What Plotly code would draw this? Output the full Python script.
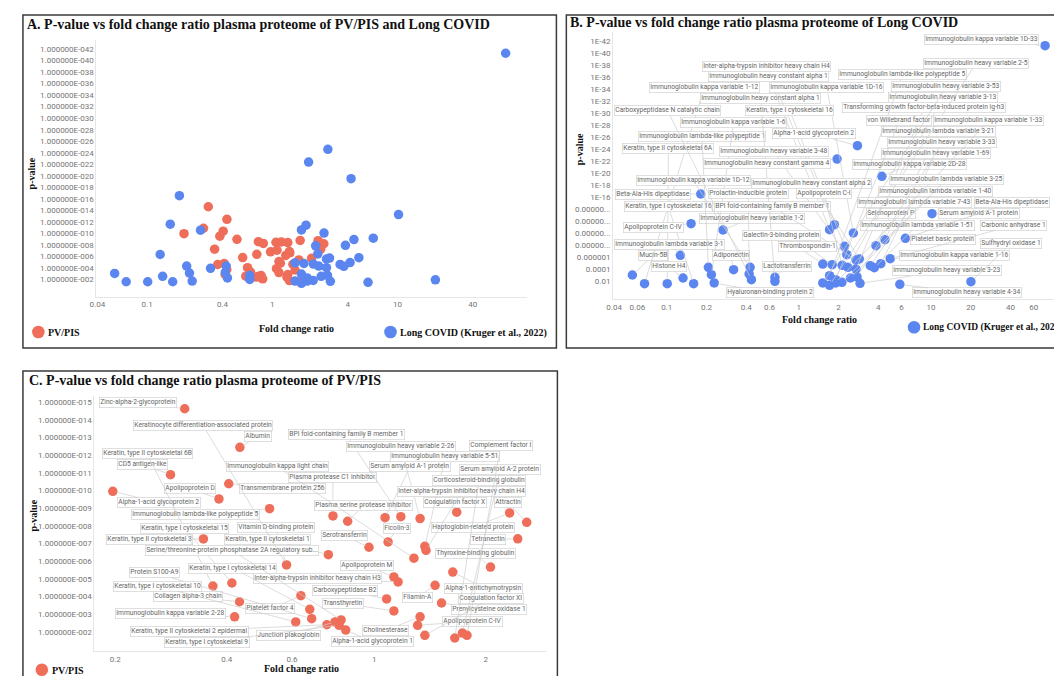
import numpy as np
import plotly.graph_objects as go

W, H = 1062, 676
RED = "#EE6E59"
BLUE = "#5B86F0"

# ---------------- data: Long COVID (Kruger et al., 2022) ----------------
lc_protein = [
    "Mucin-5B", "Immunoglobulin kappa variable 1-12", "Keratin, type II cytoskeletal 6A", "Histone H4",
    "Keratin, type I cytoskeletal 16", "Immunoglobulin lambda variable 3-1", "Apolipoprotein C-IV",
    "Beta-Ala-His dipeptidase", "Immunoglobulin heavy variable 1-2", "Immunoglobulin lambda-like polypeptide 1",
    "Immunoglobulin kappa variable 1-6", "Hyaluronan-binding protein 2", "Adiponectin",
    "Immunoglobulin kappa variable 1D-12", "Prolactin-inducible protein", "Carboxypeptidase N catalytic chain",
    "Lactotransferrin", "Immunoglobulin heavy constant alpha 1", "Immunoglobulin kappa variable 2D-28",
    "Serum amyloid A-1 protein", "Inter-alpha-trypsin inhibitor heavy chain H4",
    "Immunoglobulin heavy constant alpha 1", "Immunoglobulin kappa variable 1D-16", "Platelet basic protein",
    "Immunoglobulin lambda variable 3-21", "Selenoprotein P", "Keratin, type I cytoskeletal 16",
    "Immunoglobulin heavy variable 3-48", "BPI fold-containing family B member 1",
    "Immunoglobulin heavy constant alpha 2", "Immunoglobulin kappa variable 1-16", "Galectin-3-binding protein",
    "Thrombospondin-1", "Apolipoprotein C-I", "Immunoglobulin heavy variable 3-13",
    "Transforming growth factor-beta-induced protein ig-h3", "Immunoglobulin lambda variable 7-43",
    "Immunoglobulin lambda variable 1-51", "Immunoglobulin heavy variable 1-69",
    "Immunoglobulin lambda-like polypeptide 5", "von Willebrand factor", "Immunoglobulin lambda variable 1-40",
    "Immunoglobulin heavy variable 3-33", "Immunoglobulin heavy variable 3-53", "Immunoglobulin heavy variable 2-5",
    "Immunoglobulin kappa variable 1-33", "Immunoglobulin lambda variable 3-25", "Immunoglobulin heavy variable 3-23",
    "Immunoglobulin heavy variable 4-34", "Sulfhydryl oxidase 1", "Immunoglobulin kappa variable 1D-33",
    "Alpha-1-acid glycoprotein 2", "Immunoglobulin heavy constant gamma 4",
]
lc_fold = [0.055, 0.068, 0.101, 0.133, 0.160, 0.127, 0.153, 0.181, 0.267, 0.207,
           0.218, 0.229, 0.321, 0.428, 0.421, 0.438, 0.660, 0.660, 4.26, 10.2,
           1.86, 1.71, 2.59, 6.41, 4.49, 3.84, 2.22, 2.31, 2.71, 2.87,
           4.92, 1.52, 1.79, 2.13, 2.35, 2.71, 3.48, 3.73, 4.18, 1.71,
           1.90, 2.46, 2.76, 1.52, 1.71, 1.90, 2.12, 2.91, 5.82, 20.1,
           73.2, 2.78, 1.95]
lc_neglog10p = [3.05, 1.6, 1.6, 2.55, 1.6, 6.33, 11.6, 16.55, 10.55, 4.33,
                3.1, 1.72, 3.93, 4.33, 3.22, 2.27, 2.67, 2.0, 19.5, 13.27,
                11.43, 10.6, 10.05, 9.17, 8.93, 7.93, 7.83, 6.43, 5.55, 5.72,
                5.77, 4.88, 4.77, 4.67, 4.33, 4.05, 4.6, 4.27, 4.93, 2.93,
                2.27, 2.55, 2.72, 1.72, 1.33, 1.72, 1.83, 1.67, 1.5, 1.93,
                41.27, 24.6, 22.38]

# ---------------- data: PV/PIS ----------------
pv_protein = [
    "Zinc-alpha-2-glycoprotein", "Albumin", "CD5 antigen-like", "Alpha-1-acid glycoprotein 2",
    "Transmembrane protein 256", "Apolipoprotein D", "Immunoglobulin lambda-like polypeptide 5",
    "Keratin, type II cytoskeletal 3", "Vitamin D-binding protein", "Keratin, type II cytoskeletal 6B",
    "Keratin, type I cytoskeletal 15", "Collagen alpha-3 chain", "Immunoglobulin kappa variable 2-28",
    "Plasma protease C1 inhibitor", "Plasma serine protease inhibitor", "Serum amyloid A-1 protein",
    "BPI fold-containing family B member 1", "Immunoglobulin heavy variable 2-26", "Coagulation factor X",
    "Haptoglobin-related protein", "Attractin", "Tetranectin", "Serotransferrin", "Ficolin-3",
    "Keratin, type II cytoskeletal 1", "Immunoglobulin heavy variable 5-51",
    "Inter-alpha-trypsin inhibitor heavy chain H4", "Immunoglobulin kappa light chain",
    "Thyroxine-binding globulin", "Alpha-1-antichymotrypsin", "Apolipoprotein M",
    "Inter-alpha-trypsin inhibitor heavy chain H3", "Filamin-A", "Platelet factor 4", "Carboxypeptidase B2",
    "Prenylcysteine oxidase 1", "Transthyretin", "Keratin, type I cytoskeletal 14", "Protein S100-A9",
    "Keratin, type I cytoskeletal 10", "Keratin, type II cytoskeletal 2 epidermal", "Junction plakoglobin",
    "Serine/threonine-protein phosphatase 2A regulatory sub...", "Keratin, type I cytoskeletal 9",
    "Alpha-1-acid glycoprotein 1", "Cholinesterase", "Apolipoprotein C-IV", "Coagulation factor XI",
    "Corticosteroid-binding globulin", "Serum amyloid A-2 protein", "Complement factor I",
]
pv_fold = [0.308, 0.434, 0.282, 0.197, 0.405, 0.381, 0.522, 0.346, 0.580, 0.367,
           0.413, 0.433, 0.420, 0.774, 0.848, 1.07, 1.18, 1.33, 1.67, 2.32,
           2.58, 2.44, 0.968, 1.09, 0.752, 1.37, 1.38, 1.28, 2.06, 1.63,
           1.13, 1.16, 1.46, 0.634, 1.08, 1.52, 1.13, 0.670, 0.678, 0.614,
           0.745, 0.784, 0.814, 0.804, 0.838, 1.33, 1.31, 1.37, 1.65, 1.73,
           1.78]
pv_neglog10p = [14.62, 12.44, 10.89, 9.95, 10.38, 9.52, 8.97, 7.26, 5.79, 4.6,
                4.77, 3.71, 2.86, 8.56, 8.26, 8.46, 8.52, 8.41, 8.77, 8.73,
                8.2, 7.27, 6.79, 7.09, 6.37, 6.84, 6.62, 6.17, 5.67, 5.39,
                5.11, 4.83, 4.64, 4.05, 3.87, 3.64, 3.19, 3.28, 2.75, 2.57,
                2.41, 2.57, 2.68, 2.38, 2.11, 2.86, 2.38, 1.81, 1.66, 1.94,
                1.81]

# ---------------- tick labels ----------------
a_xticks = [0.04, 0.1, 0.4, 1, 4, 10, 40]
b_xticks = [0.04, 0.06, 0.1, 0.2, 0.4, 0.6, 1, 2, 4, 6, 10, 20, 40, 60]
c_xticks = [0.2, 0.4, 0.6, 1, 2]
ab_yticks = list(range(2, 43, 2))
a_yticktext = [f"1.000000E-{v:03d}" for v in ab_yticks]
b_yticktext = ["0.01", "0.0001", "0.000001", "0.00000...", "0.00000...", "0.00000...", "0.00000...",
               "1E-16", "1E-18", "1E-20", "1E-22", "1E-24", "1E-26", "1E-28", "1E-30", "1E-32",
               "1E-34", "1E-36", "1E-38", "1E-40", "1E-42"]
c_yticks = list(range(2, 16))
c_yticktext = [f"1.000000E-{v:03d}" for v in c_yticks]

# ---------------- layout constants (pixels) ----------------
PANELS = {
    "A": dict(left=82, right=515, top=32, bottom=288.5, xr=(-1.405, 2.032), yr=(-0.96, 43.57)),
    "B": dict(left=602, right=1060, top=23.9, bottom=291, xr=(-1.406, 2.038), yr=(-0.95, 43.57)),
    "C": dict(left=80, right=535, top=388, bottom=643, xr=(-0.755, 0.465), yr=(0.926, 15.34)),
}

# label box centres (pixels), aligned with the data lists
b_label_box = [
    (642.2, 247.5), (693.3, 80), (657.8, 141), (658, 259), (657.8, 198.7), (658.8, 236.3), (642.7, 219),
    (642.5, 186), (741.2, 210), (691.5, 129), (723.3, 115), (760, 285), (720.5, 247.5), (683.3, 172.7),
    (738.2, 186), (657.5, 102.7), (776.7, 259), (750.8, 90.7), (900.3, 156.7), (970.3, 205.7),
    (757.2, 58.3), (759.2, 68.3), (817.5, 80), (934.2, 231.7), (929.5, 123.3), (881.7, 205.7),
    (780.3, 102.7), (764.5, 144), (763.3, 198.7), (802.5, 175.7), (945.8, 247.5), (771.7, 227.7),
    (798, 239), (814.2, 186), (933.8, 89.3), (914.7, 100), (905, 194.3), (908, 217.3), (926.3, 146),
    (893, 66.7), (889.8, 112.7), (925.8, 183.3), (933, 134.7), (936.8, 78.3), (966.3, 55.7),
    (979.2, 112.7), (936.7, 171.7), (937.5, 263), (958.2, 285), (1002, 236), (973.3, 31.7),
    (805, 126), (757.8, 155.7),
]
b_extra_labels = [("Beta-Ala-His dipeptidase", 23, (1002.8, 194.3)),
                  ("Carbonic anhydrase 1", 30, (1004.7, 217.3))]
c_label_box = [
    (124, 394.7), (244, 428.7), (128.3, 456.3), (145, 494.7), (269, 480), (176, 480.3), (182.5, 506.7),
    (136, 531.3), (262.5, 520), (133.5, 445.7), (170.7, 520), (174.7, 588.7), (156.7, 605),
    (320, 469.7), (350.8, 497.7), (397.5, 459), (333.8, 427), (388.3, 438), (443, 494.3),
    (461.7, 519.3), (496, 494.3), (476.3, 531.3), (331.7, 527.7), (384.5, 520.7), (254.5, 531),
    (433, 448.7), (449.3, 483.7), (264.8, 458.7), (463.5, 546), (471.7, 580), (354.3, 557.7),
    (305, 571), (405.3, 589), (257.3, 601), (332.5, 582.3), (476.7, 601.3), (330.5, 595.3),
    (219.7, 560), (141.2, 564.7), (144.5, 578), (176.5, 623), (275.5, 627.7), (219, 542.3),
    (194.3, 634), (360, 634), (373.5, 622.3), (460, 613.3), (478.7, 590.3), (467, 473),
    (488.3, 461.3), (488.7, 438),
]
c_extra_labels = [("Keratinocyte differentiation-associated protein", 8, (190, 417.7))]


def to_px(p, fc, v):
    x = p["left"] + (np.log10(fc) - p["xr"][0]) / (p["xr"][1] - p["xr"][0]) * (p["right"] - p["left"])
    y = p["bottom"] - (v - p["yr"][0]) / (p["yr"][1] - p["yr"][0]) * (p["bottom"] - p["top"])
    return x, y


def px(x):
    return x / W


def py(y):
    return 1 - y / H


tickfont = dict(family="Roboto", size=8, color="#757575")
SERIF = "Liberation Serif, Times New Roman, serif"


def xcfg(p, anchor, ticks):
    return dict(domain=[px(p["left"]), px(p["right"])], type="log", range=list(p["xr"]), anchor=anchor,
                tickvals=ticks, ticktext=[f"{t:g}" for t in ticks], showgrid=False, zeroline=False,
                showline=True, linecolor="#e6e6e6", linewidth=1, ticks="", tickfont=tickfont)


def ycfg(p, anchor, ticks, text):
    return dict(domain=[py(p["bottom"]), py(p["top"])], range=list(p["yr"]), anchor=anchor,
                tickvals=ticks, ticktext=text, showgrid=False, zeroline=False,
                showline=True, linecolor="#e6e6e6", linewidth=1, ticks="", tickfont=tickfont)


fig = go.Figure()
mk = dict(size=9.5, line=dict(width=0))
fig.add_trace(go.Scatter(x=pv_fold, y=pv_neglog10p, mode="markers", name="PV/PIS", text=pv_protein,
                         marker=dict(color=RED, **mk), xaxis="x", yaxis="y"))
fig.add_trace(go.Scatter(x=lc_fold, y=lc_neglog10p, mode="markers", name="Long COVID (Kruger et al., 2022)",
                         text=lc_protein, marker=dict(color=BLUE, **mk), xaxis="x", yaxis="y"))
fig.add_trace(go.Scatter(x=lc_fold, y=lc_neglog10p, mode="markers", name="Long COVID (Kruger et al., 2022)",
                         text=lc_protein, marker=dict(color=BLUE, **mk), xaxis="x2", yaxis="y2"))
fig.add_trace(go.Scatter(x=pv_fold, y=pv_neglog10p, mode="markers", name="PV/PIS", text=pv_protein,
                         marker=dict(color=RED, **mk), xaxis="x3", yaxis="y3"))

annotations = []
labfont = dict(family="Roboto", size=6.7, color="#666666")


def add_label(panel, xref, yref, name, fc, v, box):
    p = PANELS[panel]
    x0, y0 = to_px(p, fc, v)
    annotations.append(dict(
        xref=xref, yref=yref, x=float(np.log10(fc)), y=v, ax=box[0] - x0, ay=box[1] - y0,
        text=name, showarrow=True, arrowhead=0, arrowwidth=0.7, arrowcolor="#cdcdcd", standoff=4,
        font=labfont, bgcolor="white", bordercolor="#d8d8d8", borderwidth=0.8, borderpad=0.5))


for i, name in enumerate(lc_protein):
    add_label("B", "x2", "y2", name, lc_fold[i], lc_neglog10p[i], b_label_box[i])
for name, i, box in b_extra_labels:
    add_label("B", "x2", "y2", name, lc_fold[i], lc_neglog10p[i], box)
for i, name in enumerate(pv_protein):
    add_label("C", "x3", "y3", name, pv_fold[i], pv_neglog10p[i], c_label_box[i])
for name, i, box in c_extra_labels:
    add_label("C", "x3", "y3", name, pv_fold[i], pv_neglog10p[i], box)


def text(x, y, s, size, anchor="left", angle=0):
    annotations.append(dict(xref="paper", yref="paper", x=px(x), y=py(y), text=s, showarrow=False,
                            xanchor=anchor, yanchor="middle", textangle=angle,
                            font=dict(family=SERIF, size=size, color="#111")))


# panel titles
text(10.5, 16, "<b>A. P-value vs fold change ratio plasma proteome of PV/PIS and Long COVID</b>", 14)
text(556.5, 15, "<b>B. P-value vs fold change ratio plasma proteome of Long COVID</b>", 14)
text(12.5, 372.3, "<b>C. P-value vs fold change ratio plasma proteome of PV/PIS</b>", 14)
# axis titles
text(283, 320, "<b>Fold change ratio</b>", 10, "center")
text(17.5, 165, "<b>p-value</b>", 10, "center", -90)
text(810.3, 311.7, "<b>Fold change ratio</b>", 10, "center")
text(568, 141, "<b>p-value</b>", 10, "center", -90)
text(288.7, 660, "<b>Fold change ratio</b>", 10, "center")
text(18.7, 508, "<b>p-value</b>", 10, "center", -90)

# legends: (circle x, circle y, colour, text, text x, anchor, size)
legend_items = [(23.5, 324, RED, "PV/PIS", 31.5, "left", 10),
                (378, 324, BLUE, "Long COVID (Kruger et al., 2022)", 386, "left", 10),
                (905, 319.3, BLUE, "Long COVID (Kruger et al., 2022)", 1056, "right", 9.5),
                (27, 661.7, RED, "PV/PIS", 35, "left", 10)]
shapes = []
for cx, cy, col, s, tx, anc, fs in legend_items:
    shapes.append(dict(type="circle", xref="paper", yref="paper", xsizemode="pixel", ysizemode="pixel",
                       xanchor=px(cx), yanchor=py(cy), x0=-6.3, x1=6.3, y0=-6.3, y1=6.3,
                       fillcolor=col, line=dict(width=0)))
    text(tx, cy + 0.5, f"<b>{s}</b>", fs, anc)

# panel frames
for (x0, y0, x1, y1) in [(8, 7, 545, 340), (555, 7, 1064, 340), (8, 363, 546, 680)]:
    shapes.append(dict(type="rect", xref="paper", yref="paper", x0=px(x0), x1=px(x1), y0=py(y1), y1=py(y0),
                       line=dict(color="#3a3a3a", width=1.5), fillcolor="rgba(0,0,0,0)"))

A, B, C = PANELS["A"], PANELS["B"], PANELS["C"]
fig.update_layout(
    width=W, height=H, margin=dict(l=0, r=0, t=0, b=0), autosize=False,
    paper_bgcolor="white", plot_bgcolor="white", showlegend=False,
    xaxis=xcfg(A, "y", a_xticks), yaxis=ycfg(A, "x", ab_yticks, a_yticktext),
    xaxis2=xcfg(B, "y2", b_xticks), yaxis2=ycfg(B, "x2", ab_yticks, b_yticktext),
    xaxis3=xcfg(C, "y3", c_xticks), yaxis3=ycfg(C, "x3", c_yticks, c_yticktext),
    annotations=annotations, shapes=shapes,
)

fig.write_html("out.html")
